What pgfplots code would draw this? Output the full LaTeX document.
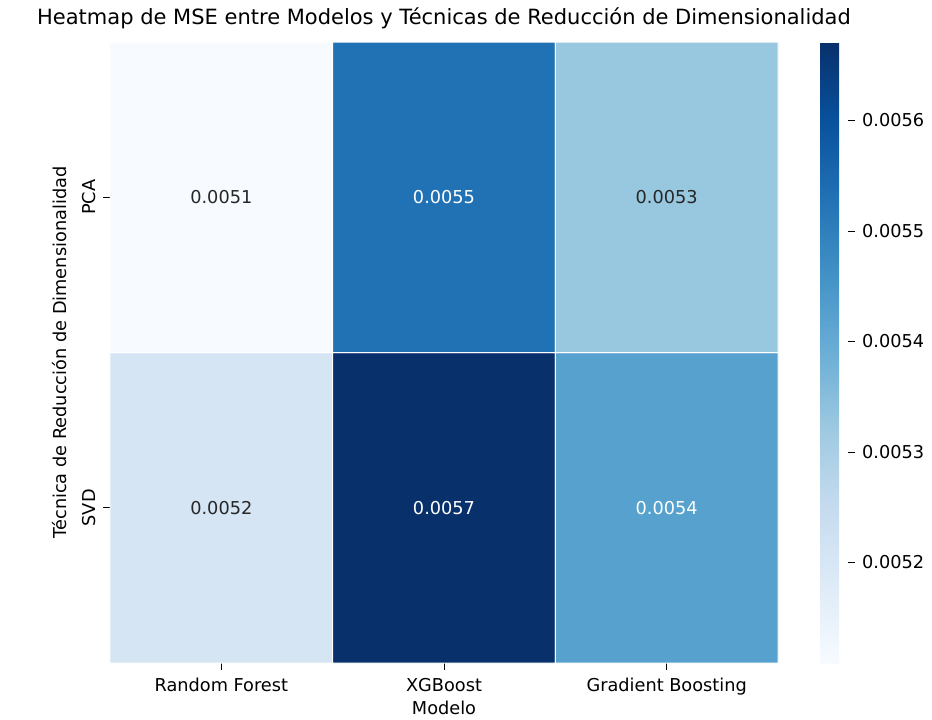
\documentclass[border=0pt]{standalone}
\usepackage{pgfplots}
\pgfplotsset{compat=1.18}
\usepackage{pgfplotstable}
\usepackage{fontspec}
\setmainfont{DejaVu Sans}
\definecolor{annodark}{HTML}{262626}
\pgfplotstableread{
x y z
0 0 0.005205
1 0 0.005671
2 0 0.005424
0 1 0.005109
1 1 0.005531
2 1 0.005328
}\heatdata
\pgfplotstableread{
x y label
0 1 0.0051
2 1 0.0053
0 0 0.0052
}\darklabels
\pgfplotstableread{
x y label
1 1 0.0055
1 0 0.0057
2 0 0.0054
}\lightlabels
\begin{document}
\begin{tikzpicture}
\begin{axis}[
  at={(0,0)}, anchor=south west,
  scale only axis, width=501pt, height=465.75pt,
  xmin=-0.5, xmax=2.5, ymin=-0.5, ymax=1.5,
  axis line style={draw=none},
  xtick={0,1,2}, xticklabels={Random Forest,XGBoost,Gradient Boosting},
  ytick={0,1}, yticklabels={SVD,PCA},
  yticklabel style={xshift=-2pt, rotate=90, anchor=south},
  xticklabel style={yshift=-3pt},
  tick align=outside, xtick pos=bottom, ytick pos=left,
  major tick length=5pt,
  tick style={black, line width=0.6pt},
  font=\fontsize{13.3}{16}\selectfont,
  xlabel={Modelo},
  ylabel={Técnica de Reducción de Dimensionalidad},
  xlabel shift=-3pt,
  ylabel shift=5pt,
  title={Heatmap de MSE entre Modelos y Técnicas de Reducción de Dimensionalidad},
  title style={font=\fontsize{15.75}{18}\selectfont},
  colormap={blues}{rgb255=(247,251,255) rgb255=(222,235,247) rgb255=(198,219,239) rgb255=(158,202,225) rgb255=(107,174,214) rgb255=(66,146,198) rgb255=(33,113,181) rgb255=(8,81,156) rgb255=(8,48,107)},
  point meta min=0.005109, point meta max=0.005671,
  colorbar,
  colorbar style={
    width=21pt,
    at={(parent axis.north east)}, anchor=north west, xshift=23pt,
    axis line style={draw=none},
    ytick={0.0052,0.0053,0.0054,0.0055,0.0056},
    scaled y ticks=false,
    yticklabel style={xshift=2pt, /pgf/number format/.cd, fixed, fixed zerofill, precision=4, assume math mode=true},
    tick align=outside, major tick length=5pt,
    tick style={black, line width=0.6pt},
    yticklabel pos=right, ytick pos=right,
    font=\fontsize{13.3}{16}\selectfont,
  },
]
\addplot[matrix plot*, mesh/cols=3, mesh/rows=2, point meta=explicit, draw=white, line width=0.75pt] table[x=x, y=y, meta=z] {\heatdata};
\addplot[only marks, mark=none, nodes near coords, point meta=explicit symbolic,
  nodes near coords style={anchor=center, text=annodark, font=\fontsize{13.3}{16}\selectfont}]
  table[x=x, y=y, meta=label] {\darklabels};
\addplot[only marks, mark=none, nodes near coords, point meta=explicit symbolic,
  nodes near coords style={anchor=center, text=white, font=\fontsize{13.3}{16}\selectfont}]
  table[x=x, y=y, meta=label] {\lightlabels};
\end{axis}
\pgfresetboundingbox
\useasboundingbox (-82.5pt,-42pt) rectangle (616.5pt,497.25pt);
\end{tikzpicture}
\end{document}
